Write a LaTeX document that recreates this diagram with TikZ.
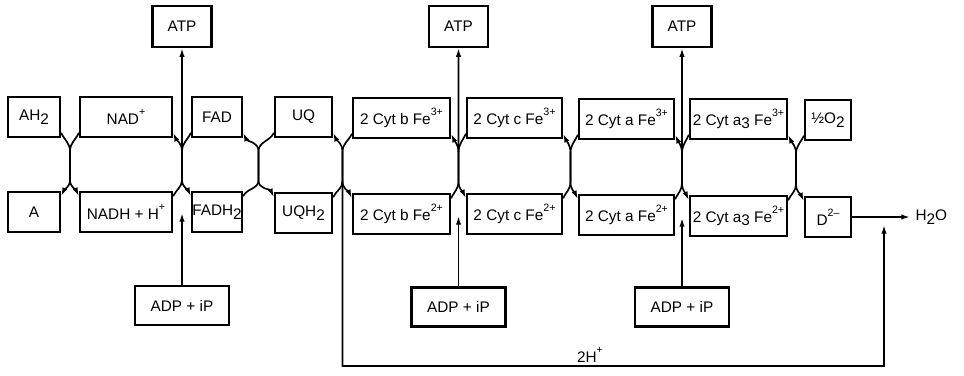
\documentclass[tikz,border=0pt]{standalone}
\usepackage{fontspec}
\setmainfont{Liberation Sans}
\usetikzlibrary{arrows.meta,calc}
\newcommand{\spr}[1]{\raisebox{1.1ex}{\footnotesize #1}}
\newcommand{\sbx}[1]{\raisebox{-0.45ex}{#1}}
\begin{document}
\begin{tikzpicture}[x=0.75pt,y=0.75pt,
  box/.style={draw, line width=1.7pt, inner sep=0pt, minimum height=30pt, font=\fontsize{11.5}{13}\selectfont},
  lbl/.style={inner sep=1pt, font=\fontsize{11.5}{13}\selectfont},
  conn/.style={line width=1.25pt},
  fwd/.style={-{Latex[length=6.5pt,width=4pt]}},
  bwd/.style={{Latex[length=6.5pt,width=4pt]}-}]
\useasboundingbox (0,0) rectangle (964,-375);
% top and bottom rows
\node[box, minimum width=39pt]    (AH2)  at (34,-117)    {AH\sbx{2}};
\node[box, minimum width=39pt]    (A)    at (34,-212)    {A};
\node[box, minimum width=69pt]    (NAD)  at (126,-117)   {NAD\spr{+}};
\node[box, minimum width=69pt]    (NADH) at (126,-212)   {NADH + H\spr{+}};
\node[box, minimum width=37.5pt]  (FAD)  at (217,-117)   {FAD};
\node[box, minimum width=37.5pt]  (FADH) at (217,-212)   {FADH\sbx{2}};
\node[box, minimum width=42.75pt] (UQ)   at (303.5,-117) {UQ};
\node[box, minimum width=42.75pt] (UQH)  at (303.5,-213) {UQH\sbx{2}};
\node[box, minimum width=72.75pt] (b3)   at (401.5,-118) {2 Cyt b Fe\spr{3+}};
\node[box, minimum width=72.75pt] (b2)   at (401.5,-214) {2 Cyt b Fe\spr{2+}};
\node[box, minimum width=71.25pt] (c3)   at (514.5,-118) {2 Cyt c Fe\spr{3+}};
\node[box, minimum width=71.25pt] (c2)   at (514.5,-214) {2 Cyt c Fe\spr{2+}};
\node[box, minimum width=71.25pt] (a3)   at (626.5,-119) {2 Cyt a Fe\spr{3+}};
\node[box, minimum width=71.25pt] (a2)   at (626.5,-215) {2 Cyt a Fe\spr{2+}};
\node[box, minimum width=72.75pt] (aa3)  at (738.5,-119) {2 Cyt a\sbx{3} Fe\spr{3+}};
\node[box, minimum width=72.75pt] (aa2)  at (738.5,-216) {2 Cyt a\sbx{3} Fe\spr{2+}};
\node[box, minimum width=34.5pt]  (O2)   at (828,-120)   {½O\sbx{2}};
\node[box, minimum width=34.5pt]  (D)    at (828,-217)   {D\spr{2--}};
% ATP and ADP boxes
\node[box, minimum width=44.25pt, minimum height=30.75pt] (ATP1) at (182,-26.5)   {ATP};
\node[box, minimum width=44.25pt, minimum height=30.75pt] (ATP2) at (458.5,-26.5) {ATP};
\node[box, minimum width=44.25pt, minimum height=30.75pt] (ATP3) at (682,-26.5)   {ATP};
\node[box, minimum width=70.5pt, minimum height=29.25pt] (ADP1) at (182,-305.5)   {ADP + iP};
\node[box, minimum width=70.5pt, minimum height=29.25pt] (ADP2) at (458.5,-307)   {ADP + iP};
\node[box, minimum width=70.5pt, minimum height=29.25pt] (ADP3) at (682,-307)     {ADP + iP};
% other labels
\node[lbl, anchor=west] (H2O) at (914,-217) {H\sbx{2}O};
\node[lbl] (hh) at (590,-355) {2H\spr{+}};
% crossing arcs between neighbouring couples
\foreach \i/\La/\Lb/\Ra/\Rb/\ls in {1/AH2/A/NAD/NADH/fwd, 2/NAD/NADH/FAD/FADH/bwd,
   3/FAD/FADH/UQ/UQH/bwd, 4/UQ/UQH/b3/b2/bwd, 5/b3/b2/c3/c2/bwd,
   6/c3/c2/a3/a2/bwd, 7/a3/a2/aa3/aa2/bwd, 8/aa3/aa2/O2/D/bwd}{
  \coordinate (g\i t) at ($(\La.south east)!0.5!(\Ra.south west)+(0,-13)$);
  \coordinate (g\i b) at ($(\Lb.north east)!0.5!(\Rb.north west)+(0,11)$);
  \draw[conn,\ls] ([yshift=4pt]\La.south east) to[out=-65,in=90] (g\i t) -- (g\i b)
        to[out=-90,in=65] ([yshift=-4pt]\Lb.north east);
  \draw[conn,fwd] ([yshift=4pt]\Ra.south west) to[out=-115,in=90] (g\i t) -- (g\i b)
        to[out=-90,in=115] ([yshift=-4pt]\Rb.north west);
}
% ATP formation
\draw[conn,fwd] (g2t) -- (ATP1.south);
\draw[conn,fwd] (g5t) -- (ATP2.south);
\draw[conn,fwd] (g7t) -- (ATP3.south);
\coordinate (u1) at (182,-213);
\coordinate (u2) at (458.5,-216);
\coordinate (u3) at (682,-218);
\draw[conn,fwd] (ADP1.north) -- (u1);
\draw[conn,fwd] (ADP2.north) -- (u2);
\draw[conn,fwd] (ADP3.north) -- (u3);
% water formation and proton return
\draw[conn,fwd] (D.east) -- ([xshift=-3pt]H2O.west);
\coordinate (c1) at (342.5,-366);
\coordinate (hp) at (884,-225);
\draw[conn,fwd] (g4b) -- (c1) -| (hp);
\end{tikzpicture}
\end{document}
